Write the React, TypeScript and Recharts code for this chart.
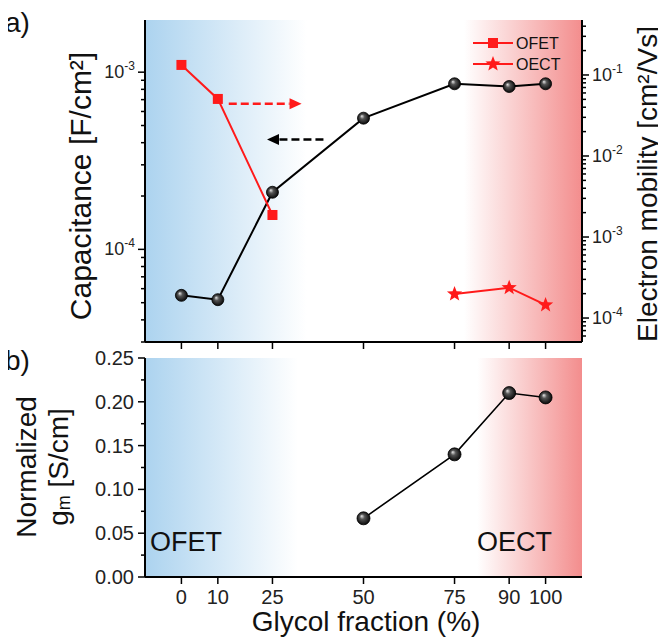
import React from 'react';
import { LineChart, Line, XAxis, YAxis, CartesianGrid, ReferenceLine, Legend } from 'recharts';

// ---------- data ----------
const fractions = [0, 10, 25, 50, 75, 90, 100];
const capacitance = [5.5e-5, 5.2e-5, 2.1e-4, 5.5e-4, 8.6e-4, 8.3e-4, 8.6e-4];
const ofetFractions = [0, 10, 25];
const ofetMobility = [0.133, 0.0506, 1.87e-3];
const oectFractions = [75, 90, 100];
const oectMobility = [1.98e-4, 2.37e-4, 1.45e-4];
const gmFractions = [50, 75, 90, 100];
const gmValues = [0.067, 0.14, 0.21, 0.205];

const xTicks = [0, 10, 25, 50, 75, 90, 100];
const capTicks = [3e-5, 4e-5, 5e-5, 6e-5, 7e-5, 8e-5, 9e-5, 1e-4, 2e-4, 3e-4, 4e-4, 5e-4, 6e-4, 7e-4, 8e-4, 9e-4, 1e-3];
const mobTicks = [6e-5, 7e-5, 8e-5, 9e-5, 1e-4, 2e-4, 3e-4, 4e-4, 5e-4, 6e-4, 7e-4, 8e-4, 9e-4, 1e-3, 2e-3, 3e-3, 4e-3, 5e-3, 6e-3, 7e-3, 8e-3, 9e-3, 1e-2, 2e-2, 3e-2, 4e-2, 5e-2, 6e-2, 7e-2, 8e-2, 9e-2, 1e-1, 2e-1, 3e-1, 4e-1];
const gmTicks = [0, 0.025, 0.05, 0.075, 0.1, 0.125, 0.15, 0.175, 0.2, 0.225, 0.25];
const gmLabelTicks = ['0.00', '0.05', '0.10', '0.15', '0.20', '0.25'];
const legendOrder = ['OFET', 'OECT'];

const redArrow = { from: 13, to: 33, level: 0.044 };
const blackArrow = { from: 39, to: 23.5, level: 4.17e-4 };

const capData = fractions.map((x, i) => ({ x, y: capacitance[i] }));
const ofetData = ofetFractions.map((x, i) => ({ x, y: ofetMobility[i] }));
const oectData = oectFractions.map((x, i) => ({ x, y: oectMobility[i] }));
const gmData = gmFractions.map((x, i) => ({ x, y: gmValues[i] }));

const FONT = '"Liberation Sans", Arial, sans-serif';
const RED = '#ff1a1a';

const isDecade = (v: number) => Math.abs(Math.log10(v) - Math.round(Math.log10(v))) < 1e-6;

const LogTick = (props: any) => {
  const { x, y, payload, side } = props;
  const v = payload.value;
  const major = isDecade(v);
  const s = side === 'left' ? -1 : 1;
  const len = major ? 7 : 4;
  const exp = Math.round(Math.log10(v));
  return (
    <g>
      <line x1={x} y1={y} x2={x + s * len} y2={y} stroke="#000" strokeWidth={1.5} />
      {major && (
        <text x={x + s * 10} y={y + 6} fontSize={18} fill="#222" fontFamily={FONT} textAnchor={side === 'left' ? 'end' : 'start'}>
          <tspan>10</tspan>
          <tspan dy={-8} fontSize={12}>{String(exp)}</tspan>
        </text>
      )}
    </g>
  );
};

const GmTick = (props: any) => {
  const { x, y, payload, side } = props;
  const v = payload.value;
  const idx = Math.round(v / 0.05 * 1000) / 1000;
  const major = Math.abs(idx - Math.round(idx)) < 1e-6;
  if (side === 'right') {
    return <line x1={x} y1={y} x2={x - (major ? 7 : 4)} y2={y} stroke="#000" strokeWidth={1.5} />;
  }
  return (
    <g>
      <line x1={x} y1={y} x2={x - (major ? 7 : 4)} y2={y} stroke="#000" strokeWidth={1.5} />
      {major && (
        <text x={x - 11} y={y + 7} fontSize={20} fill="#222" fontFamily={FONT} textAnchor="end">
          {gmLabelTicks[Math.round(idx)]}
        </text>
      )}
    </g>
  );
};

const XTick = (props: any) => {
  const { x, y, payload, labels } = props;
  return (
    <g>
      <line x1={x} y1={y} x2={x} y2={y + 7} stroke="#000" strokeWidth={1.5} />
      {labels && (
        <text x={x} y={y + 27} fontSize={20} fill="#222" fontFamily={FONT} textAnchor="middle">
          {payload.value}
        </text>
      )}
    </g>
  );
};

const TopTick = (props: any) => {
  const { x, y } = props;
  return <line x1={x} y1={y} x2={x} y2={y + 6} stroke="#000" strokeWidth={1.5} />;
};

const sphereDot = (id: string, r: number) => (props: any) => {
  const { cx, cy, index } = props;
  if (cx == null || cy == null) return <g key={index} />;
  return <circle key={index} cx={cx} cy={cy} r={r} fill={`url(#${id})`} stroke="#000" strokeWidth={0.8} />;
};

const squareDot = (props: any) => {
  const { cx, cy, index } = props;
  if (cx == null || cy == null) return <g key={index} />;
  return <rect key={index} x={cx - 5} y={cy - 5} width={10} height={10} fill={RED} />;
};

const starPath = (cx: number, cy: number, R: number, r: number) => {
  let d = '';
  for (let i = 0; i < 10; i++) {
    const rad = i % 2 === 0 ? R : r;
    const a = -Math.PI / 2 + (i * Math.PI) / 5;
    d += (i === 0 ? 'M' : 'L') + (cx + rad * Math.cos(a)).toFixed(2) + ',' + (cy + rad * Math.sin(a)).toFixed(2);
  }
  return d + 'Z';
};

const starDot = (props: any) => {
  const { cx, cy, index } = props;
  if (cx == null || cy == null) return <g key={index} />;
  return <path key={index} d={starPath(cx, cy, 8, 3.4)} fill={RED} />;
};

const arrowShape = (color: string) => (p: any) => {
  const { x1, y1, x2, y2 } = p;
  const dir = Math.sign(x2 - x1);
  const head = 12;
  return (
    <g>
      <line x1={x1} y1={y1} x2={x2 - dir * head} y2={y2} stroke={color} strokeWidth={2.5} strokeDasharray="8 4" />
      <polygon points={`${x2},${y2} ${x2 - dir * head},${y2 - 5.5} ${x2 - dir * head},${y2 + 5.5}`} fill={color} />
    </g>
  );
};

const LegendContent = (props: any) => {
  const items = (props.payload || [])
    .filter((e: any) => e.type !== 'none' && legendOrder.indexOf(e.value) >= 0)
    .sort((a: any, b: any) => legendOrder.indexOf(a.value) - legendOrder.indexOf(b.value));
  return (
    <svg width={100} height={48} style={{ display: 'block' }}>
      {items.map((e: any, i: number) => {
        const y = 11 + i * 21;
        return (
          <g key={i}>
            <line x1={2} x2={42} y1={y} y2={y} stroke={RED} strokeWidth={2} />
            {e.type === 'square' ? (
              <rect x={17} y={y - 5} width={10} height={10} fill={RED} />
            ) : (
              <path d={starPath(22, y, 8, 3.4)} fill={RED} />
            )}
            <text x={45} y={y + 6} fontSize={16} fontFamily={FONT} fill="#111">{e.value}</text>
          </g>
        );
      })}
    </svg>
  );
};

const VLabel = (text: React.ReactNode, cx: number, cy: number, size: number) => (
  <text x={cx} y={cy} fontSize={size} fontFamily={FONT} fill="#111" textAnchor="middle" dominantBaseline="central" transform={`rotate(-90 ${cx} ${cy})`}>
    {text}
  </text>
);

export default function App() {
  return (
    <div style={{ position: 'relative', width: 666, height: 643, margin: '-8px 0 0 -8px', fontFamily: FONT, background: '#fff' }}>
      <div style={{ position: 'absolute', left: 0, top: 0 }}>
        <LineChart width={666} height={350} margin={{ top: 20, right: 0, bottom: 0, left: 0 }}>
          <defs>
            <linearGradient id="bgTop" x1="0" y1="0" x2="1" y2="0">
              <stop offset="0%" stopColor="#acd3ef" />
              <stop offset="37%" stopColor="#ffffff" />
              <stop offset="73%" stopColor="#ffffff" />
              <stop offset="100%" stopColor="#f38d8d" />
            </linearGradient>
            <radialGradient id="sphA" cx="50%" cy="50%" r="55%" fx="35%" fy="32%">
              <stop offset="0%" stopColor="#e8e8e8" />
              <stop offset="35%" stopColor="#555" />
              <stop offset="100%" stopColor="#000" />
            </radialGradient>
          </defs>
          <CartesianGrid horizontal={false} vertical={false} fill="url(#bgTop)" yAxisId="left" />
          <XAxis xAxisId={0} dataKey="x" type="number" domain={[-10, 110]} ticks={xTicks} interval={0} height={8}
            axisLine={{ stroke: '#000', strokeWidth: 2 }} tickLine={false} tickSize={0} tickMargin={0}
            tick={(p: any) => <XTick {...p} labels={false} />} allowDataOverflow />
          <XAxis xAxisId="top" orientation="top" dataKey="x" type="number" domain={[-10, 110]} ticks={xTicks} interval={0} height={0}
            axisLine={{ stroke: '#000', strokeWidth: 2 }} tickLine={false} tickSize={0} tickMargin={0}
            tick={(p: any) => <TopTick {...p} />} allowDataOverflow />
          <YAxis yAxisId="left" scale="log" type="number" domain={[3e-5, 1.97e-3]} allowDataOverflow ticks={capTicks} interval={0} width={145}
            axisLine={{ stroke: '#000', strokeWidth: 2 }} tickLine={false} tickSize={0} tickMargin={0}
            tick={(p: any) => <LogTick {...p} side="left" />}
            label={(p: any) => VLabel(<>Capacitance [F/cm<tspan>²</tspan>]</>, 80, 186, 30)} />
          <YAxis yAxisId="right" orientation="right" scale="log" type="number" domain={[5.06e-5, 0.477]} allowDataOverflow ticks={mobTicks} interval={0} width={84}
            axisLine={{ stroke: '#000', strokeWidth: 2 }} tickLine={false} tickSize={0} tickMargin={0}
            tick={(p: any) => <LogTick {...p} side="right" />}
            label={(p: any) => VLabel(<>Electron mobility [cm<tspan>²</tspan>/Vs]</>, 647, 184, 28)} />
          <ReferenceLine yAxisId="right" segment={[{ x: redArrow.from, y: redArrow.level }, { x: redArrow.to, y: redArrow.level }]} shape={arrowShape(RED)} />
          <ReferenceLine yAxisId="left" segment={[{ x: blackArrow.from, y: blackArrow.level }, { x: blackArrow.to, y: blackArrow.level }]} shape={arrowShape('#000')} />
          <Line yAxisId="left" data={capData} dataKey="y" name="Capacitance" legendType="none" stroke="#000" strokeWidth={2} dot={sphereDot('sphA', 6)} isAnimationActive={false} />
          <Line yAxisId="right" data={ofetData} dataKey="y" name="OFET" legendType="square" stroke={RED} strokeWidth={2} dot={squareDot} isAnimationActive={false} />
          <Line yAxisId="right" data={oectData} dataKey="y" name="OECT" legendType="star" stroke={RED} strokeWidth={2} dot={starDot} isAnimationActive={false} />
          <Legend layout="vertical" align="center" verticalAlign="middle" content={<LegendContent />}
            wrapperStyle={{ position: 'absolute', left: 471, top: 32, width: 100, height: 48 }} />
        </LineChart>
      </div>
      <div style={{ position: 'absolute', left: 0, top: 345 }}>
        <LineChart width={666} height={298} margin={{ top: 13, right: 84, bottom: 0, left: 0 }}>
          <defs>
            <linearGradient id="bgBot" x1="0" y1="0" x2="1" y2="0">
              <stop offset="0%" stopColor="#acd3ef" />
              <stop offset="35%" stopColor="#ffffff" />
              <stop offset="76%" stopColor="#ffffff" />
              <stop offset="100%" stopColor="#f38d8d" />
            </linearGradient>
            <radialGradient id="sphB" cx="50%" cy="50%" r="55%" fx="35%" fy="32%">
              <stop offset="0%" stopColor="#e8e8e8" />
              <stop offset="35%" stopColor="#555" />
              <stop offset="100%" stopColor="#000" />
            </radialGradient>
          </defs>
          <CartesianGrid horizontal={false} vertical={false} fill="url(#bgBot)" yAxisId="gm" />
          <XAxis xAxisId={0} dataKey="x" type="number" domain={[-10, 110]} ticks={xTicks} interval={0} height={66}
            axisLine={{ stroke: '#000', strokeWidth: 2 }} tickLine={false} tickSize={0} tickMargin={0}
            tick={(p: any) => <XTick {...p} labels={true} />} allowDataOverflow
            label={(p: any) => (
              <text x={366} y={286} fontSize={28} fontFamily={FONT} fill="#111" textAnchor="middle">Glycol fraction (%)</text>
            )} />
          <XAxis xAxisId="top" orientation="top" dataKey="x" type="number" domain={[-10, 110]} ticks={xTicks} interval={0} height={0}
            axisLine={{ stroke: '#000', strokeWidth: 2 }} tickLine={false} tickSize={0} tickMargin={0}
            tick={(p: any) => <TopTick {...p} />} allowDataOverflow />
          <YAxis yAxisId="gm" type="number" domain={[0, 0.25]} ticks={gmTicks} interval={0} width={145}
            axisLine={{ stroke: '#000', strokeWidth: 2 }} tickLine={false} tickSize={0} tickMargin={0}
            tick={(p: any) => <GmTick {...p} side="left" />}
            label={(p: any) => (
              <g>
                {VLabel('Normalized', 26, 122, 28)}
                <text x={58} y={122} fontSize={28} fontFamily={FONT} fill="#111" textAnchor="middle" dominantBaseline="central" transform="rotate(-90 58 122)">
                  g<tspan fontSize={18} dy={6}>m</tspan><tspan dy={-6}> [S/cm]</tspan>
                </text>
              </g>
            )} />
          <YAxis yAxisId="gmR" orientation="right" type="number" domain={[0, 0.25]} ticks={gmTicks} interval={0} width={0}
            axisLine={{ stroke: '#000', strokeWidth: 2 }} tickLine={false} tickSize={0} tickMargin={0}
            tick={(p: any) => <GmTick {...p} side="right" />} />
          <Line yAxisId="gm" data={gmData} dataKey="y" name="gm" legendType="none" stroke="#000" strokeWidth={1.6} dot={sphereDot('sphB', 6.5)} isAnimationActive={false} />
        </LineChart>
      </div>
      <svg width={666} height={643} style={{ position: 'absolute', left: 0, top: 0, pointerEvents: 'none' }}>
        <text x={5} y={32} fontSize={28} fontFamily={FONT} fill="#111" textAnchor="start">a)</text>
        <text x={5} y={370} fontSize={28} fontFamily={FONT} fill="#111" textAnchor="start">b)</text>
        <text x={150} y={551} fontSize={27} fontFamily={FONT} fill="#111" textAnchor="start">OFET</text>
        <text x={477} y={551} fontSize={27} fontFamily={FONT} fill="#111" textAnchor="start">OECT</text>
      </svg>
    </div>
  );
}
